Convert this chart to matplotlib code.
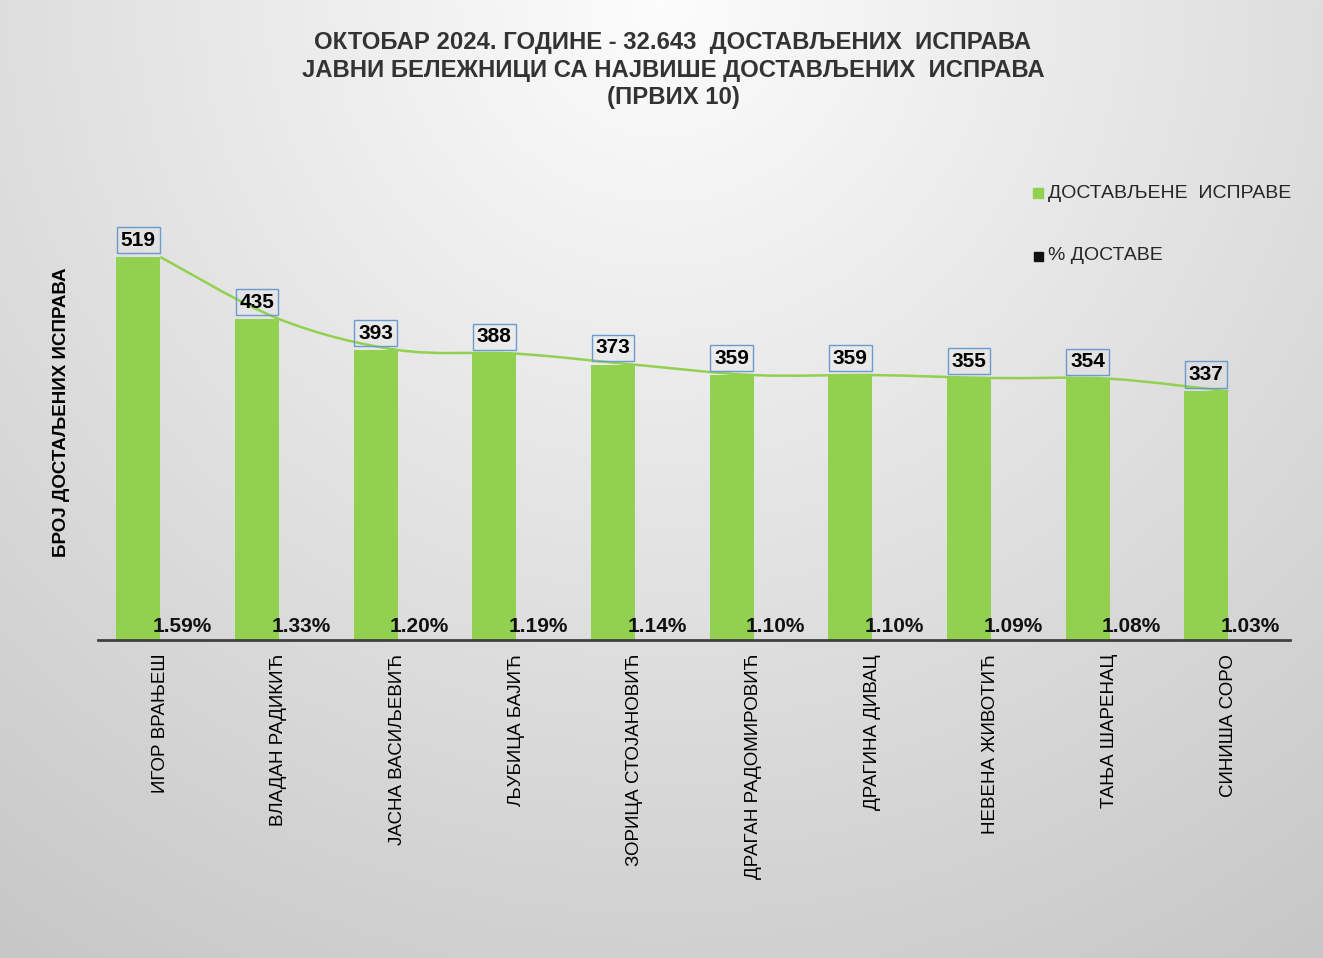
import numpy as np
import matplotlib.pyplot as plt
from matplotlib.path import Path
from matplotlib.patches import PathPatch

plt.rcParams['font.family'] = ['Liberation Sans', 'DejaVu Sans']

names = ['ИГОР ВРАЊЕШ', 'ВЛАДАН РАДИКИЋ', 'ЈАСНА ВАСИЉЕВИЋ', 'ЉУБИЦА БАЈИЋ',
         'ЗОРИЦА СТОЈАНОВИЋ', 'ДРАГАН РАДОМИРОВИЋ', 'ДРАГИНА ДИВАЦ',
         'НЕВЕНА ЖИВОТИЋ', 'ТАЊА ШАРЕНАЦ', 'СИНИША СОРО']
delivered = [519, 435, 393, 388, 373, 359, 359, 355, 354, 337]
percent = [1.59, 1.33, 1.20, 1.19, 1.14, 1.10, 1.10, 1.09, 1.08, 1.03]

title = ('ОКТОБАР 2024. ГОДИНЕ - 32.643  ДОСТАВЉЕНИХ  ИСПРАВА\n'
         'ЈАВНИ БЕЛЕЖНИЦИ СА НАЈВИШЕ ДОСТАВЉЕНИХ  ИСПРАВА\n'
         '(ПРВИХ 10)')

green = '#92D050'
W, H = 1323, 958

fig = plt.figure(figsize=(W / 100, H / 100), dpi=100)

# background radial gradient
bg = fig.add_axes([0, 0, 1, 1], zorder=-10)
xx, yy = np.meshgrid(np.linspace(0, 1, 400), np.linspace(0, H / W, 300))
r = np.sqrt((xx - 0.5) ** 2 + (yy - 0.0) ** 2)
shade = np.clip(0.99 - 0.24 * r, 0.78, 1.0)
bg.imshow(np.dstack([shade] * 3), extent=[0, 1, 1, 0], aspect='auto')
bg.axis('off')

# main axes: left 98px, right 1290px, baseline y=640, 0.738 px / unit
ylim_top = 600
ax_h = ylim_top * 0.738
ax = fig.add_axes([98 / W, (H - 640) / H, (1290 - 98) / W, ax_h / H])
ax.patch.set_alpha(0)

x = np.arange(len(names))
bw = 0.37
ax.bar(x - bw / 2, delivered, width=bw, color=green, zorder=2)

for i, v in enumerate(delivered):
    ax.text(x[i] - bw / 2, v + 10, str(v), ha='center', va='bottom',
            fontsize=15, fontweight='bold', color='black', zorder=5,
            bbox=dict(boxstyle='square,pad=0.18', fc='none', ec='#6A9BD0', lw=1))
for i, p in enumerate(percent):
    ax.text(x[i] + bw / 2, p + 4, '{:.2f}%'.format(p), ha='center', va='bottom',
            fontsize=15, fontweight='bold', color='#111111', zorder=5)

# smoothed trend line through category centers (Catmull-Rom -> Bezier)
pts = np.column_stack([x, delivered]).astype(float)
verts = [tuple(pts[0])]
codes = [Path.MOVETO]
t = 1 / 6
for i in range(len(pts) - 1):
    p0 = pts[max(i - 1, 0)]
    p1 = pts[i]
    p2 = pts[i + 1]
    p3 = pts[min(i + 2, len(pts) - 1)]
    c1 = p1 + (p2 - p0) * t
    c2 = p2 - (p3 - p1) * t
    verts += [tuple(c1), tuple(c2), tuple(p2)]
    codes += [Path.CURVE4] * 3
ax.add_patch(PathPatch(Path(verts, codes), fc='none', ec=green, lw=1.8, zorder=3))

ax.set_xlim(-0.525, 9.52)
ax.set_ylim(0, ylim_top)
for s in ['top', 'right', 'left']:
    ax.spines[s].set_visible(False)
ax.spines['bottom'].set_color('#404040')
ax.spines['bottom'].set_linewidth(2)
ax.set_yticks([])
ax.set_xticks(x)
ax.set_xticklabels(names, rotation=90, fontsize=13.5, color='black', va='top')
ax.tick_params(axis='x', length=0, pad=10)

fig.text(61 / W, 1 - 412 / H, 'БРОЈ ДОСТАЉЕНИХ ИСПРАВА', rotation=90,
         ha='center', va='center', fontsize=13.5, fontweight='bold', color='black')

fig.text(673 / W, 1 - 70 / H, title, ha='center', va='center', fontsize=17.2,
         fontweight='bold', color='#333333', linespacing=1.25)

# legend
fig.patches.append(plt.Rectangle((1033 / W, 1 - 198 / H), 10 / W, 10 / H,
                                 transform=fig.transFigure, color=green, figure=fig))
fig.text(1048 / W, 1 - 193 / H, 'ДОСТАВЉЕНЕ  ИСПРАВЕ', ha='left', va='center',
         fontsize=14, color='#262626')
fig.patches.append(plt.Rectangle((1034 / W, 1 - 261 / H), 9 / W, 9 / H,
                                 transform=fig.transFigure, color='#111111', figure=fig))
fig.text(1048 / W, 1 - 256 / H, '% ДОСТАВЕ', ha='left', va='center',
         fontsize=14, color='#262626')

plt.savefig('out.png', dpi=100)
